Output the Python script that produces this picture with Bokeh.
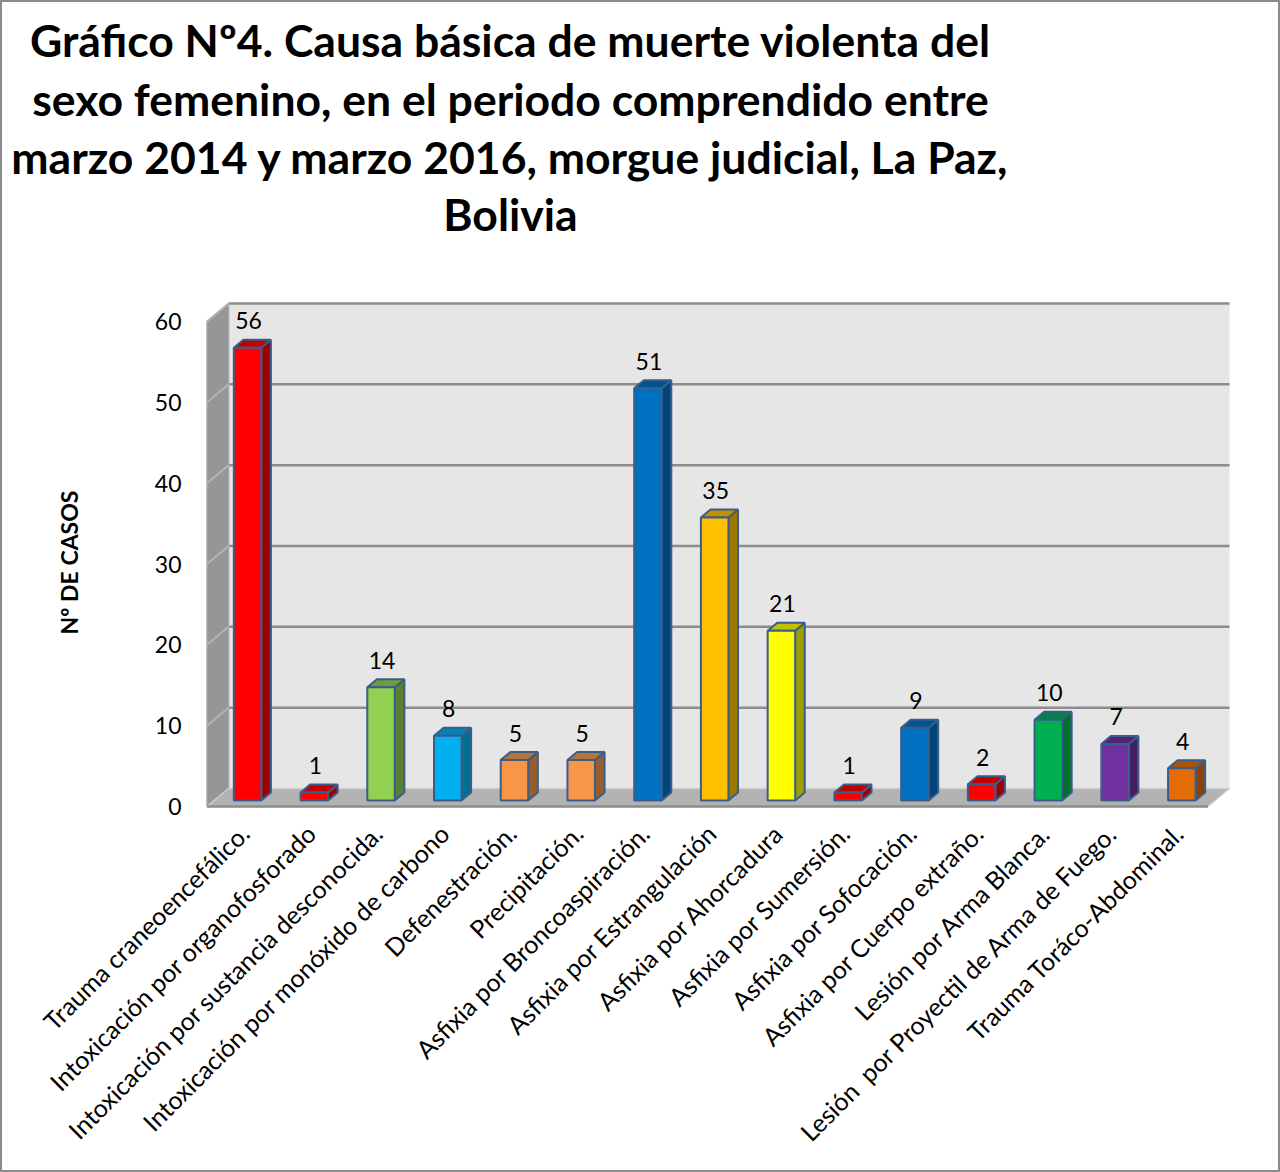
import math
from bokeh.plotting import figure
from bokeh.models import Range1d
from bokeh.core.properties import value
from bokeh.embed import file_html
from bokeh.resources import INLINE

# ---------------- data ----------------
categories = [
    "Trauma craneoencefálico.",
    "Intoxicación por organofosforado",
    "Intoxicación por sustancia desconocida.",
    "Intoxicación por monóxido de carbono",
    "Defenestración.",
    "Precipitación.",
    "Asfixia por Broncoaspiración.",
    "Asfixia por Estrangulación",
    "Asfixia por Ahorcadura",
    "Asfixia por Sumersión.",
    "Asfixia por Sofocación.",
    "Asfixia por Cuerpo extraño.",
    "Lesión por Arma Blanca.",
    "Lesión\u00a0 por Proyectil de Arma de Fuego.",
    "Trauma Toráco-Abdominal.",
]
casos = [56, 1, 14, 8, 5, 5, 51, 35, 21, 1, 9, 2, 10, 7, 4]
bar_colors = ["#FF0000", "#FF0000", "#92D050", "#00B0F0", "#F79646", "#F79646",
              "#0070C0", "#FFC000", "#FFFF00", "#FF0000", "#0070C0", "#FF0000",
              "#00B050", "#7030A0", "#E36C09"]
y_ticks = [0, 10, 20, 30, 40, 50, 60]
y_max = 60
title_lines = [
    "Gráfico Nº4. Causa básica de muerte violenta del",
    "sexo femenino, en el periodo comprendido entre",
    "marzo 2014 y marzo 2016, morgue judicial, La Paz,",
    "Bolivia",
]
y_label = "Nº DE CASOS"

# ---------------- layout constants (pixels) ----------------
W, H = 1280, 1172
PX_X = 66.73      # px per category slot
PX_Y = 8.083      # px per case
X0_PX = 206.5     # left edge of front floor
Y0_PX = 806.0     # baseline (value 0) of front plane
FONT = "Lato"

def ox(d):   # depth offset in x data units
    return 1.2 * d / PX_X

def oy(d):   # depth offset in y data units
    return d / PX_Y

def dx_px(px):
    return (px - X0_PX) / PX_X

def dy_px(py):
    return (Y0_PX - py) / PX_Y

def shade(hexc, f):
    h = hexc.lstrip("#")
    r, g, b = (int(h[i:i + 2], 16) for i in (0, 2, 4))
    return "#%02x%02x%02x" % (int(r * f), int(g * f), int(b * f))

n = len(categories)
p = figure(width=W, height=H, output_backend="svg", toolbar_location=None,
           x_range=Range1d(dx_px(0), dx_px(W)), y_range=Range1d(dy_px(H), dy_px(0)),
           x_axis_location=None, y_axis_location=None, min_border=0)
p.grid.visible = False
p.background_fill_color = "white"
p.border_fill_color = "white"
p.outline_line_color = "#8c8c8c"
p.outline_line_width = 3

DB = 18.0  # depth of the walls (px)

# back wall
p.patch([0 + ox(DB), n + ox(DB), n + ox(DB), 0 + ox(DB)],
        [0 + oy(DB), 0 + oy(DB), y_max + oy(DB), y_max + oy(DB)],
        fill_color="#e6e6e6", line_color=None)
# gridlines on back wall
for t in y_ticks[1:]:
    p.line([0 + ox(DB), n + ox(DB)], [t + oy(DB), t + oy(DB)],
           line_color="#8c8c8c", line_width=2.5)

# left side wall
p.patch([0, ox(DB), ox(DB), 0], [0, oy(DB), y_max + oy(DB), y_max],
        fill_color="#969696", line_color="#a8a8a8", line_width=1.5)
for t in y_ticks[1:]:
    p.line([0, ox(DB)], [t, t + oy(DB)], line_color="#b4b4b4", line_width=2)

# floor
p.patch([0, n, n + ox(DB), ox(DB)], [0, 0, oy(DB), oy(DB)],
        fill_color="#b2b2b2", line_color="#d0d0d0", line_width=1.5)
p.line([0, n], [0, 0], line_color="#8c8c8c", line_width=2.5)

# bars
D1, D2 = 6.0, 14.0
bw = 0.412
outline = "#3A5E8C"
for i, (v, c) in enumerate(zip(casos, bar_colors)):
    xc = i + 0.5
    L, R = xc - bw / 2, xc + bw / 2
    # side face
    p.patch([R + ox(D1), R + ox(D1), R + ox(D2), R + ox(D2)],
            [0 + oy(D1), v + oy(D1), v + oy(D2), 0 + oy(D2)],
            fill_color=shade(c, 0.62), line_color=outline, line_width=2)
    # top face
    p.patch([L + ox(D1), R + ox(D1), R + ox(D2), L + ox(D2)],
            [v + oy(D1), v + oy(D1), v + oy(D2), v + oy(D2)],
            fill_color=shade(c, 0.76), line_color=outline, line_width=2)
    # front face
    p.quad(left=L + ox(D1), right=R + ox(D1), bottom=0 + oy(D1), top=v + oy(D1),
           fill_color=c, line_color=outline, line_width=2)

# data labels
p.text(x=[i + 0.5 + ox(D1) + 1 / PX_X for i in range(n)],
       y=[v + oy(D1) + 27 / PX_Y for v in casos],
       text=[str(v) for v in casos], text_align="center", text_baseline="middle",
       text_font=value(FONT), text_font_size="23px", text_color="black")

# y tick labels
p.text(x=[dx_px(181)] * len(y_ticks), y=y_ticks, text=[str(t) for t in y_ticks],
       text_align="right", text_baseline="middle",
       text_font=value(FONT), text_font_size="23px", text_color="black")

# y axis title
p.text(x=[dx_px(68)], y=[dy_px(562)], text=[y_label], angle=math.pi / 2,
       text_align="center", text_baseline="middle", text_font=value(FONT),
       text_font_style="bold", text_font_size="23px", text_color="black")

# category labels
p.text(x=[i + 0.5 + 4 / PX_X for i in range(n)], y=[dy_px(828)] * n, text=categories,
       angle=math.pi / 4, text_align="right", text_baseline="middle",
       text_font=value(FONT), text_font_size="25px", text_color="black")

# title
p.text(x=[dx_px(510)] * len(title_lines),
       y=[dy_px(py) for py in (39, 98, 156, 213)], text=title_lines,
       text_align="center", text_baseline="alphabetic", text_font=value(FONT),
       text_font_style="bold", text_font_size="44.5px", text_color="black")

open("out.html", "w").write(file_html(p, INLINE))
